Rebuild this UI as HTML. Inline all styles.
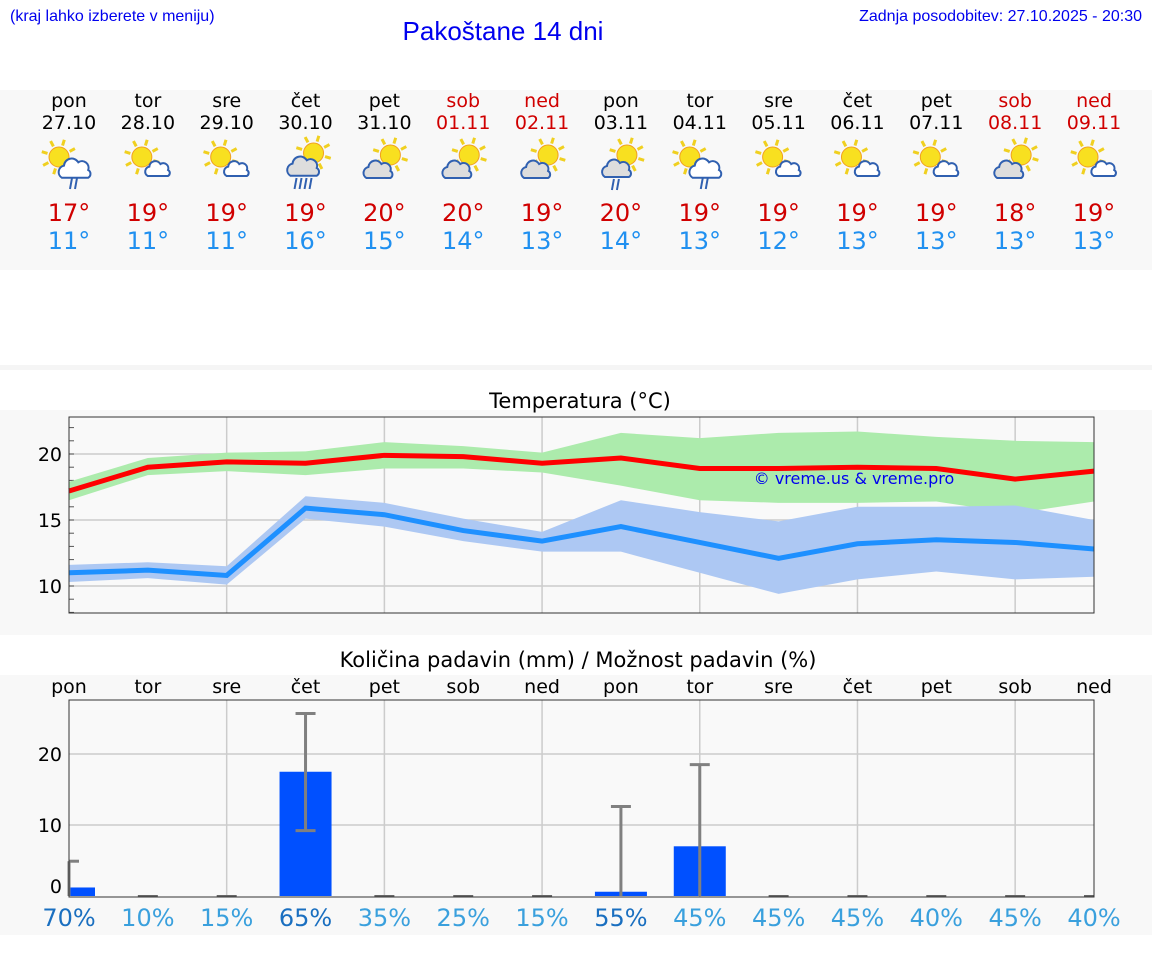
<!DOCTYPE html>
<html><head><meta charset="utf-8"><style>
body{margin:0;width:1152px;height:975px;background:#fff;font-family:"DejaVu Sans","Liberation Sans",sans-serif;overflow:hidden}
svg{display:block}
</style></head><body>
<svg id="s" width="1152" height="975" xmlns="http://www.w3.org/2000/svg">
<rect x="0" y="90" width="1152" height="180" fill="#f8f8f8"/>
<rect x="0" y="365" width="1152" height="5" fill="#f5f5f5"/>
<rect x="0" y="410" width="1152" height="225" fill="#f8f8f8"/>
<rect x="0" y="675" width="1152" height="260" fill="#f8f8f8"/>
<text x="10" y="21" font-size="16" fill="#0000ee" font-family="Liberation Sans,sans-serif">(kraj lahko izberete v meniju)</text>
<text x="503" y="40" font-size="26" fill="#0000ee" text-anchor="middle" font-family="Liberation Sans,sans-serif">Pakoštane 14 dni</text>
<text x="1142" y="21" font-size="16" fill="#0000ee" text-anchor="end" font-family="Liberation Sans,sans-serif">Zadnja posodobitev: 27.10.2025 - 20:30</text>
<text x="580" y="408" font-size="21" text-anchor="middle">Temperatura (°C)</text>
<text x="578" y="667" font-size="21" text-anchor="middle">Količina padavin (mm) / Možnost padavin (%)</text>
<g id="topg"></g><g id="tc"></g><g id="pc"></g>
</svg>
<script>
const days=["pon","tor","sre","čet","pet","sob","ned","pon","tor","sre","čet","pet","sob","ned"];
const dates=["27.10","28.10","29.10","30.10","31.10","01.11","02.11","03.11","04.11","05.11","06.11","07.11","08.11","09.11"];
const weekend=[0,0,0,0,0,1,1,0,0,0,0,0,1,1];
const icons=["sr","sc","sc","grr","gs","gs","gs","sgr","sr","sc","sc","sc","gs","sc"];
const tmax=[17.2,19.0,19.4,19.3,19.9,19.8,19.3,19.7,18.9,18.9,19.0,18.9,18.1,18.7];
const tmaxHi=[17.9,19.7,20.1,20.2,20.9,20.6,20.1,21.6,21.2,21.6,21.7,21.3,21.0,20.9];
const tmaxLo=[16.5,18.4,18.7,18.4,18.9,18.9,18.6,17.6,16.5,16.3,16.3,16.4,15.5,16.4];
const tmin=[11.0,11.2,10.8,15.9,15.4,14.2,13.4,14.5,13.3,12.1,13.2,13.5,13.3,12.8];
const tminHi=[11.6,11.8,11.5,16.8,16.3,15.1,14.1,16.5,15.6,14.9,16.0,16.0,16.1,15.0];
const tminLo=[10.3,10.6,10.1,15.1,14.5,13.4,12.6,12.6,11.0,9.4,10.5,11.1,10.5,10.7];
const maxLabels=[17,19,19,19,20,20,19,20,19,19,19,19,18,19];
const minLabels=[11,11,11,16,15,14,13,14,13,12,13,13,13,13];
const precip=[1.2,0,0,17.5,0,0,0,0.6,7.0,0,0,0,0,0];
const precipHi=[4.9,0,0,25.7,0,0,0,12.6,18.5,0,0,0,0,0];
const precipLo=[0,0,0,9.2,0,0,0,0,0,0,0,0,0,0];
const chance=[70,10,15,65,35,25,15,55,45,45,45,40,45,40];
const tTicks=[10,15,20];
const pTicks=[0,10,20];
const NS="http://www.w3.org/2000/svg";
function el(p,t,a,txt){const e=document.createElementNS(NS,t);for(const k in a)e.setAttribute(k,a[k]);if(txt!==undefined)e.textContent=txt;p.appendChild(e);return e;}
const X=i=>69+i*(1094-69)/13;
const TY=v=>454-(v-20)*13.2;
const PY=v=>896-v*7.1;
const topG=document.getElementById('topg');
function icon(g,cx,type){
  const sun=(sx,sy,r)=>{for(let k=0;k<8;k++){const a=k*Math.PI/4+0.3;el(g,'line',{x1:sx+Math.cos(a)*(r+2),y1:sy+Math.sin(a)*(r+2),x2:sx+Math.cos(a)*(r+8),y2:sy+Math.sin(a)*(r+8),stroke:'#f0d020','stroke-width':3});}
    el(g,'circle',{cx:sx,cy:sy,r:r,fill:'#f8e020',stroke:'#f0a020','stroke-width':1});};
  const cloud=(x,y,s,fill)=>{el(g,'path',{d:`M${x-12*s},${y+7*s} a${6*s},${6*s} 0 0 1 ${2*s},${-11*s} a${7*s},${7*s} 0 0 1 ${13*s},${-3*s} a${6*s},${6*s} 0 0 1 ${9*s},${7*s} a${4*s},${4*s} 0 0 1 ${0},${7*s} z`,fill:fill,stroke:'#3060b0','stroke-width':2});};
  const rain=(x,y,n)=>{for(let k=0;k<n;k++)el(g,'line',{x1:x+k*5+1,y1:y,x2:x+k*5-1,y2:y+11,stroke:'#3060b0','stroke-width':2});};
  if(type==='sr'){sun(cx-10,157,10);cloud(cx+6,170,1.1,'#fff');rain(cx+2,178,2);}
  else if(type==='sc'){sun(cx-6,157,10);cloud(cx+10,170,0.85,'#fff');}
  else if(type==='grr'){sun(cx+8,153,10);cloud(cx-2,168,1.1,'#ddd');rain(cx-10,178,4);}
  else if(type==='gs'){sun(cx+6,155,10);cloud(cx-6,171,1.0,'#ddd');}
  else if(type==='sgr'){sun(cx+6,155,10);cloud(cx-4,170,1.0,'#ddd');rain(cx-8,179,2);}
}
for(let i=0;i<14;i++){
  const x=X(i),c=weekend[i]?'#d00000':'#000';
  const t1=el(topG,'text',{x:x,y:107,'font-size':19,'text-anchor':'middle',fill:c},days[i]);
  
  
  const t2=el(topG,'text',{x:x,y:129,'font-size':19,'text-anchor':'middle',fill:c},dates[i]);
  
  
  const g=el(topG,'g',{});
  
  
  icon(g,x,icons[i]);
  const t3=el(topG,'text',{x:x,y:221,'font-size':24,'text-anchor':'middle',fill:'#d00000'},maxLabels[i]+'°');
  
  
  const t4=el(topG,'text',{x:x,y:249,'font-size':24,'text-anchor':'middle',fill:'#2090f0'},minLabels[i]+'°');
  
  
}
const tc=document.getElementById('tc');
el(tc,'rect',{x:69,y:417,width:1025,height:196,fill:'#f9f9f9'});
for(const v of tTicks){el(tc,'line',{x1:69,x2:1094,y1:TY(v),y2:TY(v),stroke:'#ccc','stroke-width':1.5});
  const t=el(tc,'text',{x:62,y:TY(v)+7,'font-size':19,'text-anchor':'end'},v);
  
  }
for(let v=8;v<=22;v++){el(tc,'line',{x1:69,x2:74,y1:TY(v),y2:TY(v),stroke:'#555','stroke-width':1});}
for(let i=2;i<14;i+=2){el(tc,'line',{x1:X(i),x2:X(i),y1:417,y2:613,stroke:'#ccc','stroke-width':1.5});}
const band=(hi,lo,col,name)=>{let d='M'+hi.map((v,i)=>X(i)+','+TY(v)).join(' L')+' L'+lo.map((v,i)=>X(i)+','+TY(v)).reverse().join(' L')+'Z';
  const p=el(tc,'path',{d:d,fill:col});};
band(tmaxHi,tmaxLo,'#acebac','max-temp-range');
band(tminHi,tminLo,'#adc8f3','min-temp-range');
const line=(arr,col,name)=>{const p=el(tc,'polyline',{points:arr.map((v,i)=>X(i)+','+TY(v)).join(' '),fill:'none',stroke:col,'stroke-width':5});
  };
line(tmax,'#ff0000','max-temp-line');
line(tmin,'#1e90ff','min-temp-line');
const wm=el(tc,'text',{x:854,y:484,'font-size':16,'text-anchor':'middle',fill:'#0000ee'},'© vreme.us & vreme.pro');


el(tc,'rect',{x:69,y:417,width:1025,height:196,fill:'none',stroke:'#333','stroke-width':1});
const pc=document.getElementById('pc');
el(pc,'rect',{x:69,y:700,width:1025,height:197,fill:'#f9f9f9'});
for(const v of pTicks){if(v>0)el(pc,'line',{x1:69,x2:1094,y1:PY(v),y2:PY(v),stroke:'#ccc','stroke-width':1.5});
  const t=el(pc,'text',{x:62,y:PY(v)+(v===0?-3:7),'font-size':19,'text-anchor':'end'},v);
  
  }
for(let i=2;i<14;i+=2){el(pc,'line',{x1:X(i),x2:X(i),y1:700,y2:897,stroke:'#ccc','stroke-width':1.5});}
for(let i=0;i<14;i++){
  const x=X(i);
  const dl=el(pc,'text',{x:x,y:693,'font-size':19,'text-anchor':'middle'},days[i]);
  
  
  if(precip[i]>0){const x0=Math.max(69,x-26),x1=Math.min(1094,x+26);
    const b=el(pc,'rect',{x:x0,y:PY(precip[i]),width:x1-x0,height:PY(0)-PY(precip[i]),fill:'#0050ff'});
    
    }
  const eb=el(pc,'g',{stroke:'#808080','stroke-width':3});
  
  
  const cl=Math.max(69,x-10),cr=Math.min(1094,x+10);
  if(precipHi[i]>0){el(eb,'line',{x1:x,x2:x,y1:PY(precipLo[i]),y2:PY(precipHi[i])});
    el(eb,'line',{x1:cl,x2:cr,y1:PY(precipHi[i]),y2:PY(precipHi[i])});
    if(precipLo[i]>0)el(eb,'line',{x1:cl,x2:cr,y1:PY(precipLo[i]),y2:PY(precipLo[i])});}
  else el(eb,'line',{x1:cl,x2:cr,y1:PY(0),y2:PY(0),'stroke-width':2,stroke:'#666'});
  const pt=el(pc,'text',{x:x,y:926,'font-size':24,'text-anchor':'middle',fill:chance[i]>=50?'#1a6fc0':'#3aa0dd'},chance[i]+'%');
  
  
}
el(pc,'rect',{x:69,y:700,width:1025,height:197,fill:'none',stroke:'#333','stroke-width':1});
</script>
</body></html>
